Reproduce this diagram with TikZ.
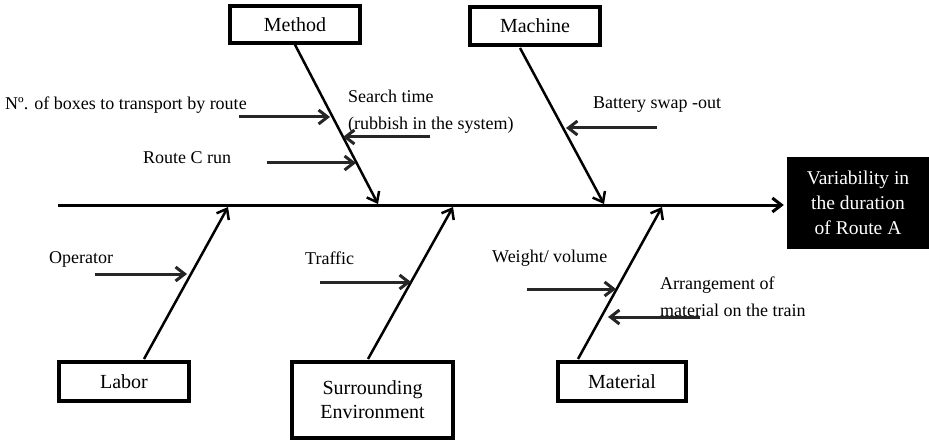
\documentclass[tikz,border=0pt]{standalone}
\usepackage{fontspec}
\setmainfont{Liberation Serif}
\usetikzlibrary{arrows.meta}
\begin{document}
\begin{tikzpicture}[x=1pt, y=-1pt,
    cause/.style={draw=black, line width=3.5pt, inner sep=0pt, align=center,
        font=\fontsize{20}{24}\selectfont},
    effect/.style={fill=black, text=white, inner sep=0pt, align=center,
        minimum width=142pt, minimum height=92pt, font=\fontsize{19.5}{25}\selectfont},
    bone/.style={line width=2.5pt, -{Straight Barb[length=9pt, width=14pt]}},
    sub/.style={line width=3pt, draw=black!85, -{Straight Barb[length=9pt, width=14pt]}},
    lbl/.style={anchor=west, inner sep=0pt, font=\fontsize{18}{27}\selectfont, align=left}
]
    \useasboundingbox (0,0) rectangle (929,441);

    % head and spine
    \node[effect] (effect) at (858,203) {Variability in\\the duration\\of Route A};
    \coordinate (tail) at (58,205);
    \draw[bone, line width=3pt, shorten >=3pt] (tail) -- (effect.west |- tail);

    % main causes
    \node[cause, minimum width=130pt, minimum height=37pt] (method) at (295,24.5) {Method};
    \node[cause, minimum width=130pt, minimum height=38pt] (machine) at (535,26) {Machine};
    \node[cause, minimum width=130pt, minimum height=39pt] (labor) at (124,381.5) {Labor};
    \node[cause, minimum width=161pt, minimum height=76pt] (surround) at (372.5,400) {Surrounding\\Environment};
    \node[cause, minimum width=128pt, minimum height=39pt] (material) at (622,381.5) {Material};

    \coordinate (m1) at (378,204);
    \coordinate (m2) at (604,204);
    \coordinate (l0) at (144,359);
    \coordinate (l1) at (228,207);
    \coordinate (s0) at (368,359);
    \coordinate (s1) at (453,207);
    \coordinate (t0) at (578,359);
    \coordinate (t1) at (662,207);
    \coordinate (k0) at (520,48);

    \draw[bone] (method.south) -- (m1);
    \draw[bone] (k0) -- (m2);
    \draw[bone] (l0) -- (l1);
    \draw[bone] (s0) -- (s1);
    \draw[bone] (t0) -- (t1);

    % sub causes
    \node[lbl] (boxes) at (5,105) {Nº. of boxes to transport by route};
    \node[lbl] (search) at (348,111.5) {Search time\\(rubbish in the system)};
    \node[lbl] (routec) at (143,158) {Route C run};
    \node[lbl] (battery) at (593,105) {Battery swap -out};
    \node[lbl] (operator) at (49,259) {Operator};
    \node[lbl] (traffic) at (305,258) {Traffic};
    \node[lbl] (weight) at (492,258) {Weight/ volume};
    \node[lbl] (arrange) at (660,296.5) {Arrangement of\\material on the train};

    \coordinate (a1) at (239,117);
    \coordinate (b1) at (330,117);
    \coordinate (a2) at (430,137);
    \coordinate (b2) at (343,137);
    \coordinate (a3) at (267,163);
    \coordinate (b3) at (356,163);
    \coordinate (a4) at (657,128);
    \coordinate (b4) at (566,128);
    \coordinate (a5) at (95,274);
    \coordinate (b5) at (187,274);
    \coordinate (a6) at (320,282);
    \coordinate (b6) at (411,282);
    \coordinate (a7) at (527,289);
    \coordinate (b7) at (616,289);
    \coordinate (a8) at (700,317);
    \coordinate (b8) at (608,317);

    \foreach \i in {1,...,8}
        \draw[sub] (a\i) -- (b\i);
\end{tikzpicture}
\end{document}
